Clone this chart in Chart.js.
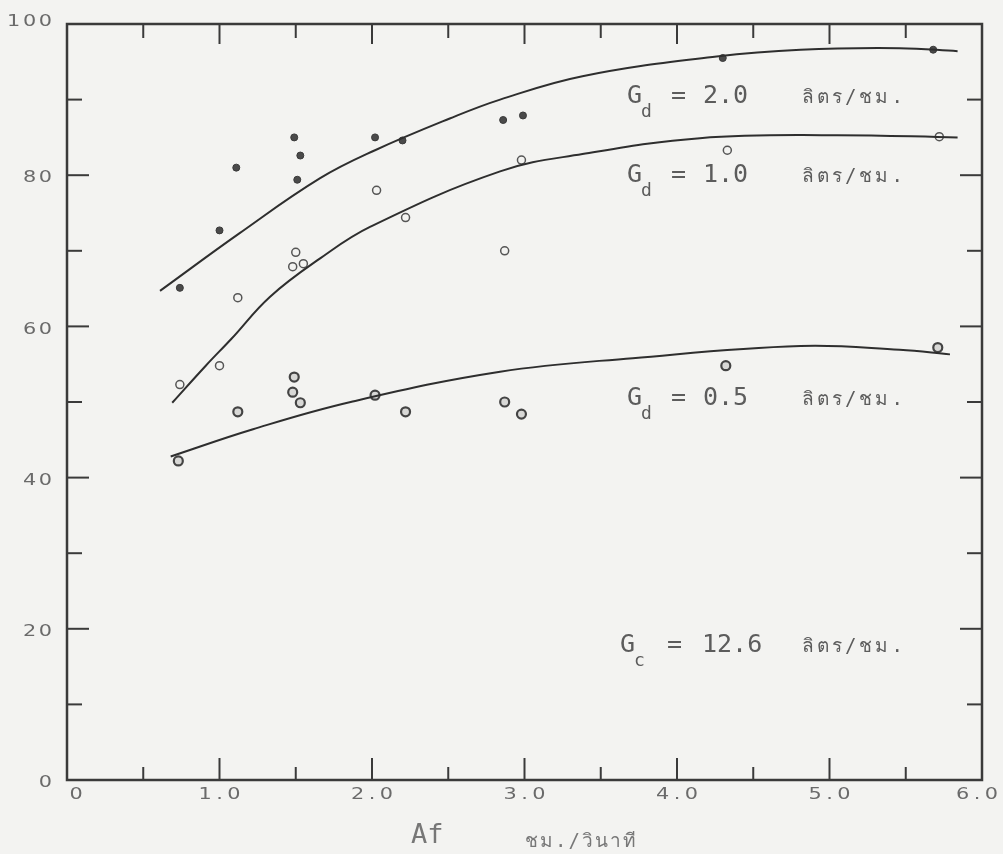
<!DOCTYPE html>
<html>
<head>
<meta charset="utf-8">
<script src="https://cdn.jsdelivr.net/npm/chart.js@4.4.1/dist/chart.umd.min.js"></script>
<style>
    html, body { margin: 0; padding: 0; background: #f3f3f1; }
    #wrap { width: 1003px; height: 854px; }
</style>
</head>
<body>
<div id="wrap"><canvas id="chart" width="1003" height="854"></canvas></div>
<script>

// ==========================
// Data
// ==========================

const xTickValues = [0, 1, 2, 3, 4, 5, 6];
const xTickLabels = ["0", "1.0", "2.0", "3.0", "4.0", "5.0", "6.0"];
const yTickValues = [0, 20, 40, 60, 80, 100];
const yTickLabels = ["0", "20", "40", "60", "80", "100"];

const xMajorMarks = [1, 2, 3, 4, 5];
const xMinorMarks = [0.5, 1.5, 2.5, 3.5, 4.5, 5.5];
const yMajorMarks = [20, 40, 60, 80];
const yMinorMarks = [10, 30, 50, 70, 90];

// fitted curves
const curve20X = [0.61, 1.13, 1.66, 2.02, 2.51, 2.84, 3.38, 4.26, 4.81, 5.46, 5.84];
const curve20Y = [64.7, 72.3, 79.6, 83.3, 87.5, 90.0, 93.1, 95.7, 96.6, 96.8, 96.4];

const curve10X = [0.69, 0.91, 1.08, 1.33, 1.66, 1.99, 2.84, 3.38, 4.15, 5.02, 5.84];
const curve10Y = [49.9, 54.8, 58.4, 63.9, 69.0, 73.2, 80.5, 82.8, 84.9, 85.3, 85.0];

const curve05X = [0.68, 1.22, 1.86, 2.84, 3.71, 4.81, 5.46, 5.79];
const curve05Y = [42.8, 46.4, 50.0, 54.0, 55.8, 57.4, 56.9, 56.3];

// measured points
const pts20X = [0.74, 1.00, 1.11, 1.49, 1.53, 1.51, 2.02, 2.20, 2.86, 2.99, 4.30, 5.68];
const pts20Y = [65.1, 72.7, 81.0, 85.0, 82.6, 79.4, 85.0, 84.6, 87.3, 87.9, 95.5, 96.6];

const pts10X = [0.74, 1.00, 1.12, 1.50, 1.48, 1.55, 2.03, 2.22, 2.98, 2.87, 4.33, 5.72];
const pts10Y = [52.3, 54.8, 63.8, 69.8, 67.9, 68.3, 78.0, 74.4, 82.0, 70.0, 83.3, 85.1];

const pts05X = [0.73, 1.12, 1.49, 1.48, 1.53, 2.02, 2.22, 2.87, 2.98, 4.32, 5.71];
const pts05Y = [42.2, 48.7, 53.3, 51.3, 49.9, 50.9, 48.7, 50.0, 48.4, 54.8, 57.2];

const toXY = (xs, ys) => xs.map((x, i) => ({ x: x, y: ys[i] }));

// ==========================
// Paper, frame, ticks, text
// ==========================

const INK = "#3a3a3a";
const PAPER = "#f3f3f1";

const paperPlugin = {
    id: "paper",
    beforeDraw(chart) {
        const c = chart.ctx;
        c.save();
        c.fillStyle = PAPER;
        c.fillRect(0, 0, chart.width, chart.height);
        c.restore();
    }
};

// wide plotter-style digits
function wideText(c, text, x, y, align, spacing) {
    c.save();
    c.translate(x, y);
    c.scale(1.3, 1);
    c.letterSpacing = spacing + "px";
    c.textAlign = align;
    c.fillText(text, align === "right" ? spacing : (align === "center" ? spacing / 2 : 0), 0);
    c.restore();
}

const framePlugin = {
    id: "frame",
    afterDraw(chart) {
        const c = chart.ctx;
        const a = chart.chartArea;
        const xs = chart.scales.x;
        const ys = chart.scales.y;

        c.save();
        c.strokeStyle = INK;
        c.lineWidth = 2.5;
        c.strokeRect(a.left, a.top, a.right - a.left, a.bottom - a.top);

        c.lineWidth = 2;
        const mark = (x1, y1, x2, y2) => {
            c.beginPath();
            c.moveTo(x1, y1);
            c.lineTo(x2, y2);
            c.stroke();
        };

        xMajorMarks.forEach(v => {
            const px = xs.getPixelForValue(v);
            mark(px, a.bottom, px, a.bottom - 22);
            mark(px, a.top, px, a.top + 20);
        });
        xMinorMarks.forEach(v => {
            const px = xs.getPixelForValue(v);
            mark(px, a.bottom, px, a.bottom - 13);
            mark(px, a.top, px, a.top + 14);
        });
        yMajorMarks.forEach(v => {
            const py = ys.getPixelForValue(v);
            mark(a.left, py, a.left + 22, py);
            mark(a.right, py, a.right - 22, py);
        });
        yMinorMarks.forEach(v => {
            const py = ys.getPixelForValue(v);
            mark(a.left, py, a.left + 15, py);
            mark(a.right, py, a.right - 15, py);
        });

        // tick labels
        c.fillStyle = "#6a6a6a";
        c.font = '16px "DejaVu Sans"';
        c.textBaseline = "middle";
        yTickValues.forEach((v, i) => {
            let py = ys.getPixelForValue(v) + 3;
            if (v === 100) py -= 5;
            wideText(c, yTickLabels[i], 52, py, "right", 2);
        });
        xTickValues.forEach((v, i) => {
            let px = xs.getPixelForValue(v);
            if (i === 0) px += 9;
            if (i === xTickValues.length - 1) px -= 5;
            wideText(c, xTickLabels[i], px, 795, "center", 3.5);
        });

        // axis title
        c.letterSpacing = "0px";
        c.textAlign = "left";
        c.textBaseline = "alphabetic";
        c.fillStyle = "#777";
        c.font = '27px "DejaVu Sans Mono"';
        c.fillText("Af", 411, 843);
        c.font = '19px "DejaVu Sans Mono"';
        c.letterSpacing = "2px";
        c.fillText("ชม./วินาที", 525, 847);

        // curve annotations
        const note = (gx, base, sub, eqX, value, valueX) => {
            c.fillStyle = "#5c5c5c";
            c.letterSpacing = "0px";
            c.font = '25px "DejaVu Sans Mono"';
            c.fillText("G", gx, base);
            c.font = '18px "DejaVu Sans Mono"';
            c.fillText(sub, gx + 14, base + 14);
            c.font = '25px "DejaVu Sans Mono"';
            c.fillText("=", eqX, base);
            c.fillText(value, valueX, base);
            c.font = '19px "DejaVu Sans Mono"';
            c.letterSpacing = "3px";
            c.fillText("ลิตร/ชม.", 802, base);
        };
        note(627, 103, "d", 671, "2.0", 703);
        note(627, 182, "d", 671, "1.0", 703);
        note(627, 405, "d", 671, "0.5", 703);
        note(620, 652, "c", 667, "12.6", 702);

        c.restore();
    }
};

// ==========================
// Chart
// ==========================

const ctx = document.getElementById("chart");

const curveStyle = {
    showLine: true,
    pointRadius: 0,
    borderColor: "#2e2e2e",
    borderWidth: 2,
    tension: 0.4,
    fill: false
};

new Chart(ctx, {
    type: "scatter",
    data: {
        datasets: [
            Object.assign({ label: "Gd 2.0 fit", data: toXY(curve20X, curve20Y) }, curveStyle),
            Object.assign({ label: "Gd 1.0 fit", data: toXY(curve10X, curve10Y) }, curveStyle),
            Object.assign({ label: "Gd 0.5 fit", data: toXY(curve05X, curve05Y) }, curveStyle),
            {
                label: "Gd 2.0",
                data: toXY(pts20X, pts20Y),
                pointRadius: 3.5,
                pointBackgroundColor: "#4a4a4a",
                pointBorderColor: "#3a3a3a",
                pointBorderWidth: 1
            },
            {
                label: "Gd 1.0",
                data: toXY(pts10X, pts10Y),
                pointRadius: 4,
                pointBackgroundColor: PAPER,
                pointBorderColor: "#555",
                pointBorderWidth: 1.5
            },
            {
                label: "Gd 0.5",
                data: toXY(pts05X, pts05Y),
                pointRadius: 4.5,
                pointBackgroundColor: "#d8d8d6",
                pointBorderColor: "#444",
                pointBorderWidth: 2.2
            }
        ]
    },
    options: {
        responsive: false,
        animation: false,
        devicePixelRatio: 1,
        layout: {
            padding: { top: 24, right: 21, left: 0, bottom: 0 }
        },
        plugins: {
            legend: { display: false },
            tooltip: { enabled: false }
        },
        scales: {
            x: {
                type: "linear",
                min: 0,
                max: 6,
                grid: { display: false, drawTicks: false },
                border: { display: false },
                ticks: { display: false, stepSize: 1 },
                afterFit: s => { s.height = 74; }
            },
            y: {
                type: "linear",
                min: 0,
                max: 100,
                grid: { display: false, drawTicks: false },
                border: { display: false },
                ticks: { display: false, stepSize: 20 },
                afterFit: s => { s.width = 67; }
            }
        }
    },
    plugins: [paperPlugin, framePlugin]
});

</script>
</body>
</html>
